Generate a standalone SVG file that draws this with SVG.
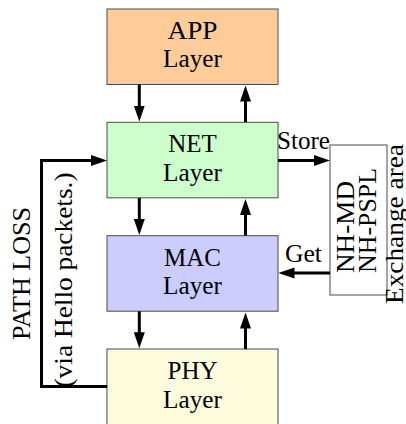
<svg xmlns="http://www.w3.org/2000/svg" width="406" height="424" viewBox="0 0 406 424">
<defs>
<style>
.box{stroke:#4a4a4a;stroke-width:1}
.t{font-family:"Liberation Serif","Times New Roman",serif;font-size:25px;fill:#000}
.c{text-anchor:middle}
.ln{fill:none;stroke:#000;stroke-width:3}
</style>
<marker id="ah" viewBox="0 0 16 12" refX="6" refY="6" markerWidth="16" markerHeight="12" markerUnits="userSpaceOnUse" orient="auto">
<path d="M0,0.5 L16,6 L0,11.5 Z" fill="#000"/>
</marker>
</defs>
<rect width="406" height="424" fill="#fff"/>
<g id="app">
<rect class="box" x="107" y="9" width="171" height="75.5" fill="#ffcc99"/>
<text class="t c" x="192.5" y="38.5" textLength="50" lengthAdjust="spacingAndGlyphs">APP</text>
<text class="t c" x="192.5" y="67" textLength="59" lengthAdjust="spacingAndGlyphs">Layer</text>
</g>
<g id="net">
<rect class="box" x="107" y="122.3" width="171" height="75.5" fill="#ccffcc"/>
<text class="t c" x="192.5" y="152">NET</text>
<text class="t c" x="192.5" y="180.5" textLength="59" lengthAdjust="spacingAndGlyphs">Layer</text>
</g>
<g id="mac">
<rect class="box" x="107" y="235.7" width="171" height="75.5" fill="#ccccff"/>
<text class="t c" x="192.5" y="265.5">MAC</text>
<text class="t c" x="192.5" y="294" textLength="59" lengthAdjust="spacingAndGlyphs">Layer</text>
</g>
<g id="phy">
<rect class="box" x="107" y="349" width="171" height="76" fill="#fcfcdc"/>
<text class="t c" x="192.5" y="379">PHY</text>
<text class="t c" x="192.5" y="407.5" textLength="59" lengthAdjust="spacingAndGlyphs">Layer</text>
</g>
<g id="exchange">
<rect class="box" x="330" y="145" width="57" height="150" fill="#fff"/>
<text class="t" transform="translate(354,273) rotate(-90)" x="0" y="0" textLength="92" lengthAdjust="spacingAndGlyphs">NH-MD</text>
<text class="t" transform="translate(376,273) rotate(-90)" x="0" y="0" textLength="105" lengthAdjust="spacingAndGlyphs">NH-PSPL</text>
<text class="t c" transform="translate(402.5,224) rotate(-90)" x="0" y="0" textLength="160" lengthAdjust="spacingAndGlyphs">Exchange area</text>
</g>
<g id="pathloss-labels">
<text class="t c" transform="translate(30,273.5) rotate(-90)" x="0" y="0" textLength="133" lengthAdjust="spacingAndGlyphs">PATH LOSS</text>
<text class="t c" transform="translate(71.5,280) rotate(-90)" x="0" y="0" textLength="215" lengthAdjust="spacingAndGlyphs">(via Hello packets.)</text>
</g>
<g id="connectors">
<line class="ln" x1="139.3" y1="84.5" x2="139.3" y2="111.5" marker-end="url(#ah)"/>
<line class="ln" x1="245.5" y1="122" x2="245.5" y2="95.5" marker-end="url(#ah)"/>
<line class="ln" x1="139.3" y1="198" x2="139.3" y2="225" marker-end="url(#ah)"/>
<line class="ln" x1="245.5" y1="235.5" x2="245.5" y2="209" marker-end="url(#ah)"/>
<line class="ln" x1="139.3" y1="311.3" x2="139.3" y2="338.3" marker-end="url(#ah)"/>
<line class="ln" x1="245.5" y1="349" x2="245.5" y2="322.5" marker-end="url(#ah)"/>
<line class="ln" x1="278" y1="160.5" x2="320" y2="160.5" marker-end="url(#ah)"/>
<line class="ln" x1="330" y1="273" x2="288.5" y2="273" marker-end="url(#ah)"/>
<polyline class="ln" points="107,386.5 41.5,386.5 41.5,160.5 97,160.5" marker-end="url(#ah)"/>
<text class="t" x="277" y="148.5" textLength="53" lengthAdjust="spacingAndGlyphs">Store</text>
<text class="t" x="285" y="262" textLength="37" lengthAdjust="spacingAndGlyphs">Get</text>
</g>
</svg>
